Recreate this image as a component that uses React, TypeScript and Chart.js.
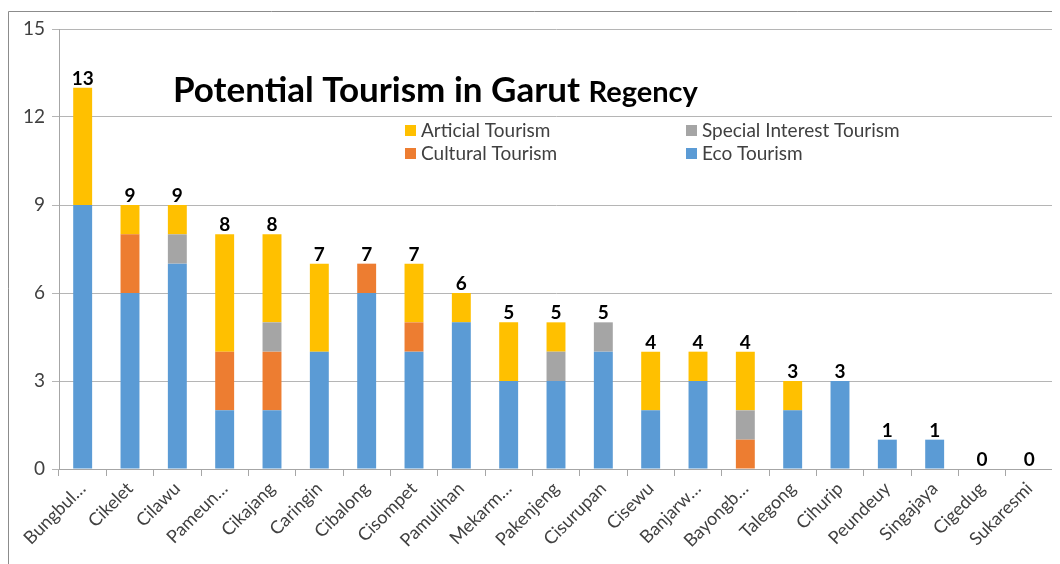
import React, { useEffect, useRef } from "react";
import { Chart, registerables } from "chart.js";

Chart.register(...registerables);

const categories = [
  "Bungbul…", "Cikelet", "Cilawu", "Pameun…", "Cikajang", "Caringin", "Cibalong",
  "Cisompet", "Pamulihan", "Mekarm…", "Pakenjeng", "Cisurupan", "Cisewu", "Banjarw…",
  "Bayongb…", "Talegong", "Cihurip", "Peundeuy", "Singajaya", "Cigedug", "Sukaresmi",
];
const ecoTourism = [9, 6, 7, 2, 2, 4, 6, 4, 5, 3, 3, 4, 2, 3, 0, 2, 3, 1, 1, 0, 0];
const culturalTourism = [0, 2, 0, 2, 2, 0, 1, 1, 0, 0, 0, 0, 0, 0, 1, 0, 0, 0, 0, 0, 0];
const specialInterestTourism = [0, 0, 1, 0, 1, 0, 0, 0, 0, 0, 1, 1, 0, 0, 1, 0, 0, 0, 0, 0, 0];
const articialTourism = [4, 1, 1, 4, 3, 3, 0, 2, 1, 2, 1, 0, 2, 1, 2, 1, 0, 0, 0, 0, 0];
const yTicks = [0, 3, 6, 9, 12, 15];

const FONT = "Lato, 'Open Sans', sans-serif";

const legendItems = [
  { label: "Articial Tourism", color: "#FFC000", col: 0, row: 0 },
  { label: "Special Interest Tourism", color: "#A5A5A5", col: 1, row: 0 },
  { label: "Cultural Tourism", color: "#ED7D31", col: 0, row: 1 },
  { label: "Eco Tourism", color: "#5B9BD5", col: 1, row: 1 },
];

const decorPlugin = {
  id: "decor",
  beforeDraw(chart: any) {
    const ctx = chart.ctx;
    ctx.save();
    ctx.fillStyle = "#ffffff";
    ctx.fillRect(0, 0, chart.width, chart.height);
    ctx.strokeStyle = "#8c8c8c";
    ctx.lineWidth = 1;
    ctx.beginPath();
    ctx.moveTo(0.5, chart.height + 5);
    ctx.lineTo(0.5, 3.5);
    ctx.lineTo(chart.width + 5, 3.5);
    ctx.stroke();
    ctx.restore();
  },
  afterDatasetsDraw(chart: any) {
    const ctx = chart.ctx;
    const xs = chart.scales.x;
    const ys = chart.scales.y;
    ctx.save();
    // totals
    ctx.fillStyle = "#000000";
    ctx.font = `bold 19px ${FONT}`;
    ctx.textAlign = "center";
    ctx.textBaseline = "alphabetic";
    categories.forEach((_, i) => {
      const total = ecoTourism[i] + culturalTourism[i] + specialInterestTourism[i] + articialTourism[i];
      const x = xs.getPixelForValue(i);
      const y = ys.getPixelForValue(total);
      ctx.fillText(String(total), x, y - 3);
    });
    // title
    ctx.textAlign = "left";
    ctx.font = `bold 35px ${FONT}`;
    const t1 = "Potential Tourism in Garut ";
    const tx = 165;
    const ty = 94;
    ctx.fillText(t1, tx, ty);
    const w1 = ctx.measureText(t1).width;
    ctx.font = `bold 29px ${FONT}`;
    ctx.fillText("Regency", tx + w1, ty);
    // legend
    ctx.font = `19px ${FONT}`;
    ctx.textBaseline = "middle";
    legendItems.forEach((it) => {
      const lx = it.col === 0 ? 397 : 678;
      const ly = it.row === 0 ? 122 : 145;
      ctx.fillStyle = it.color;
      ctx.fillRect(lx, ly - 5, 11, 11);
      ctx.fillStyle = "#404040";
      ctx.fillText(it.label, lx + 16, ly + 1);
    });
    ctx.restore();
  },
};

export default function App() {
  const ref = useRef<HTMLCanvasElement>(null);
  useEffect(() => {
    const canvas = ref.current!;
    const chart = new Chart(canvas, {
      type: "bar",
      data: {
        labels: categories,
        datasets: [
          { label: "Eco Tourism", data: ecoTourism, backgroundColor: "#5B9BD5" },
          { label: "Cultural Tourism", data: culturalTourism, backgroundColor: "#ED7D31" },
          { label: "Special Interest Tourism", data: specialInterestTourism, backgroundColor: "#A5A5A5" },
          { label: "Articial Tourism", data: articialTourism, backgroundColor: "#FFC000" },
        ],
      },
      options: {
        animation: false,
        responsive: false,
        maintainAspectRatio: false,
        datasets: { bar: { barPercentage: 0.4, categoryPercentage: 1.0 } },
        layout: { padding: { top: 21, right: 7, left: 0, bottom: 0 } },
        plugins: { legend: { display: false }, title: { display: false }, tooltip: { enabled: false } },
        scales: {
          x: {
            stacked: true,
            grid: { display: true, drawOnChartArea: false, drawTicks: true, tickLength: 7, offset: true, color: "#a6a6a6" },
            border: { display: true, color: "#a6a6a6" },
            ticks: {
              autoSkip: false,
              maxRotation: 45,
              minRotation: 45,
              color: "#404040",
              font: { family: FONT, size: 18 },
              padding: 2,
            },
            afterFit(scale: any) {
              scale.height = 95;
              scale.paddingLeft = 0;
              scale.paddingRight = 0;
            },
          },
          y: {
            stacked: true,
            min: 0,
            max: 15,
            afterBuildTicks(scale: any) {
              scale.ticks = yTicks.map((v) => ({ value: v }));
            },
            grid: { color: "#b5b5b5", tickLength: 7, drawTicks: true },
            border: { display: true, color: "#a6a6a6" },
            ticks: { color: "#404040", font: { family: FONT, size: 19 }, padding: 7 },
            afterFit(scale: any) {
              scale.width = 51;
              scale.paddingTop = 0;
              scale.paddingBottom = 0;
            },
          },
        },
      },
      plugins: [decorPlugin],
    } as any);
    return () => chart.destroy();
  }, []);
  return (
    <div style={{ width: 1052, height: 556 }}>
      <canvas ref={ref} width={1052} height={556} style={{ display: "block" }} />
    </div>
  );
}
